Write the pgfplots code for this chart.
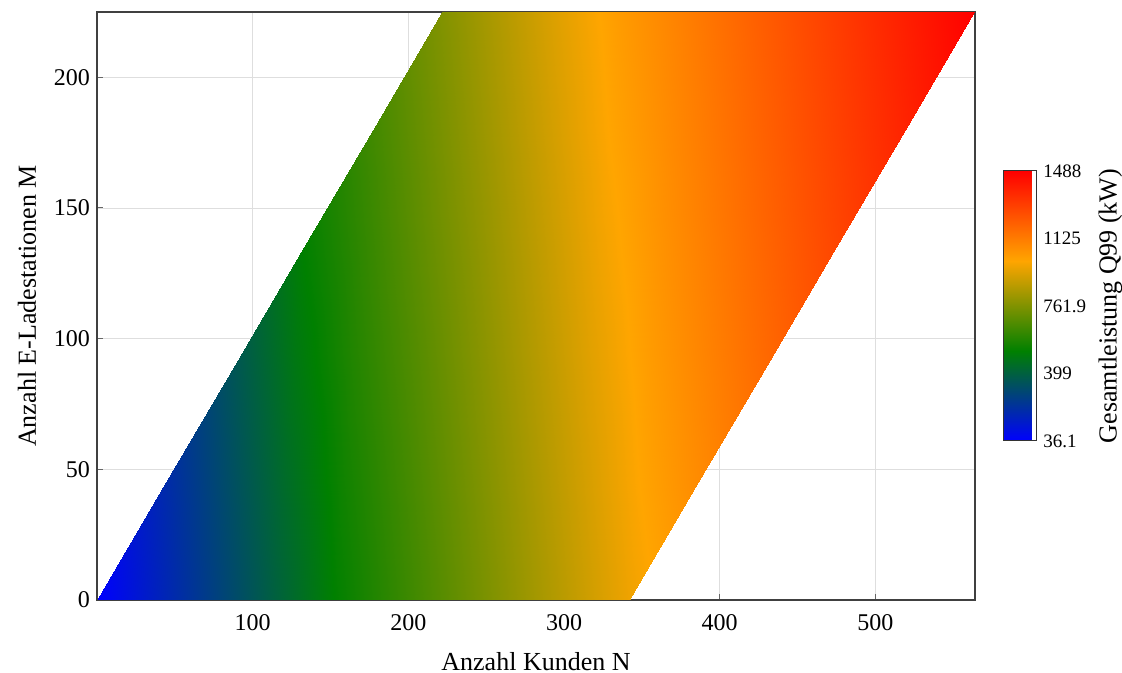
\documentclass[border=0pt]{standalone}
\usepackage{fontspec}
\setmainfont{Liberation Serif}
\usepackage{pgfplots}
\pgfplotsset{compat=1.18}
\begin{document}
\begin{tikzpicture}
\path[use as bounding box] (-48.5pt,-36.5pt) rectangle (512.5pt,300pt);
\begin{axis}[
  at={(0,0)}, anchor=south west,
  scale only axis, width=439pt, height=294pt,
  xmin=0, xmax=564, ymin=0, ymax=225,
  xtick={100,200,300,400,500},
  ytick={0,50,100,150,200},
  grid=major,
  major grid style={draw=black!13, line width=0.4pt},
  axis line style={draw=black!75, line width=0.6pt},
  tick style={draw=black!60, line width=0.5pt},
  major tick length=3pt,
  tick pos=left,
  tick align=inside,
  /pgf/number format/assume math mode=true,
  ticklabel style={font=\fontsize{12}{14}\selectfont},
  xticklabel style={yshift=-3.5pt},
  label style={font=\fontsize{13}{15}\selectfont},
  xlabel={Anzahl Kunden N},
  xlabel style={yshift=-4pt},
  ylabel={Anzahl E-Ladestationen M},
  ylabel style={yshift=2pt},
  colormap={q99}{rgb255=(0,0,255) rgb255=(0,128,0) rgb255=(255,165,0) rgb255=(255,0,0)},
  point meta min=36.1, point meta max=1488,
  colorbar,
  colorbar style={
    scale only axis,
    width=16.5pt, height=135pt,
    at={(parent axis.east)}, anchor=west, xshift=5.5pt,
    ytick={36.1,399,761.9,1125,1488},
    yticklabels={36.1,399,761.9,1125,1488},
    yticklabel pos=right,
    yticklabel style={font=\fontsize{9.5}{11}\selectfont, inner sep=3.5pt},
    major tick length=0pt,
    grid=none,
    axis line style={draw=black!80, line width=0.5pt},
    ylabel={Gesamtleistung Q99 (kW)},
    ylabel near ticks,
    ylabel style={font=\fontsize{13}{15}\selectfont, inner sep=2.5pt},
  },
]
\addplot[surf, shader=interp, mesh/cols=10, point meta=explicit] table[x=x, y=y, meta=c] {
x y c
0 0 36.1
38 0 157.1
76 0 278.1
114 0 399.1
152 0 520
190 0 610.6
228 0 701.2
266 0 791.8
304 0 882.4
342 0 973.0
44.3 45 198.6
82.3 45 319.6
120.3 45 440.6
158.3 45 551.1
196.3 45 641.7
234.3 45 732.3
272.3 45 822.9
310.3 45 913.5
348.3 45 1004.1
386.3 45 1079.8
88.7 90 361.5
126.7 90 482.5
164.7 90 582.5
202.7 90 673.1
240.7 90 763.6
278.7 90 854.2
316.7 90 944.8
354.7 90 1030.3
392.7 90 1106.0
430.7 90 1181.7
133 135 523.0
171 135 613.6
209 135 704.2
247 135 794.8
285 135 885.3
323 135 975.9
361 135 1056.3
399 135 1132.0
437 135 1207.7
475 135 1283.4
177.3 180 644.7
215.3 180 735.3
253.3 180 825.9
291.3 180 916.5
329.3 180 1006.6
367.3 180 1082.3
405.3 180 1158.0
443.3 180 1233.7
481.3 180 1309.4
519.3 180 1385.1
221.6 225 766.4
259.6 225 857.0
297.6 225 947.6
335.6 225 1032.6
373.6 225 1108.3
411.6 225 1184.0
449.6 225 1259.7
487.6 225 1335.4
525.6 225 1411.1
563.6 225 1486.8
};
\end{axis}
\end{tikzpicture}
\end{document}
